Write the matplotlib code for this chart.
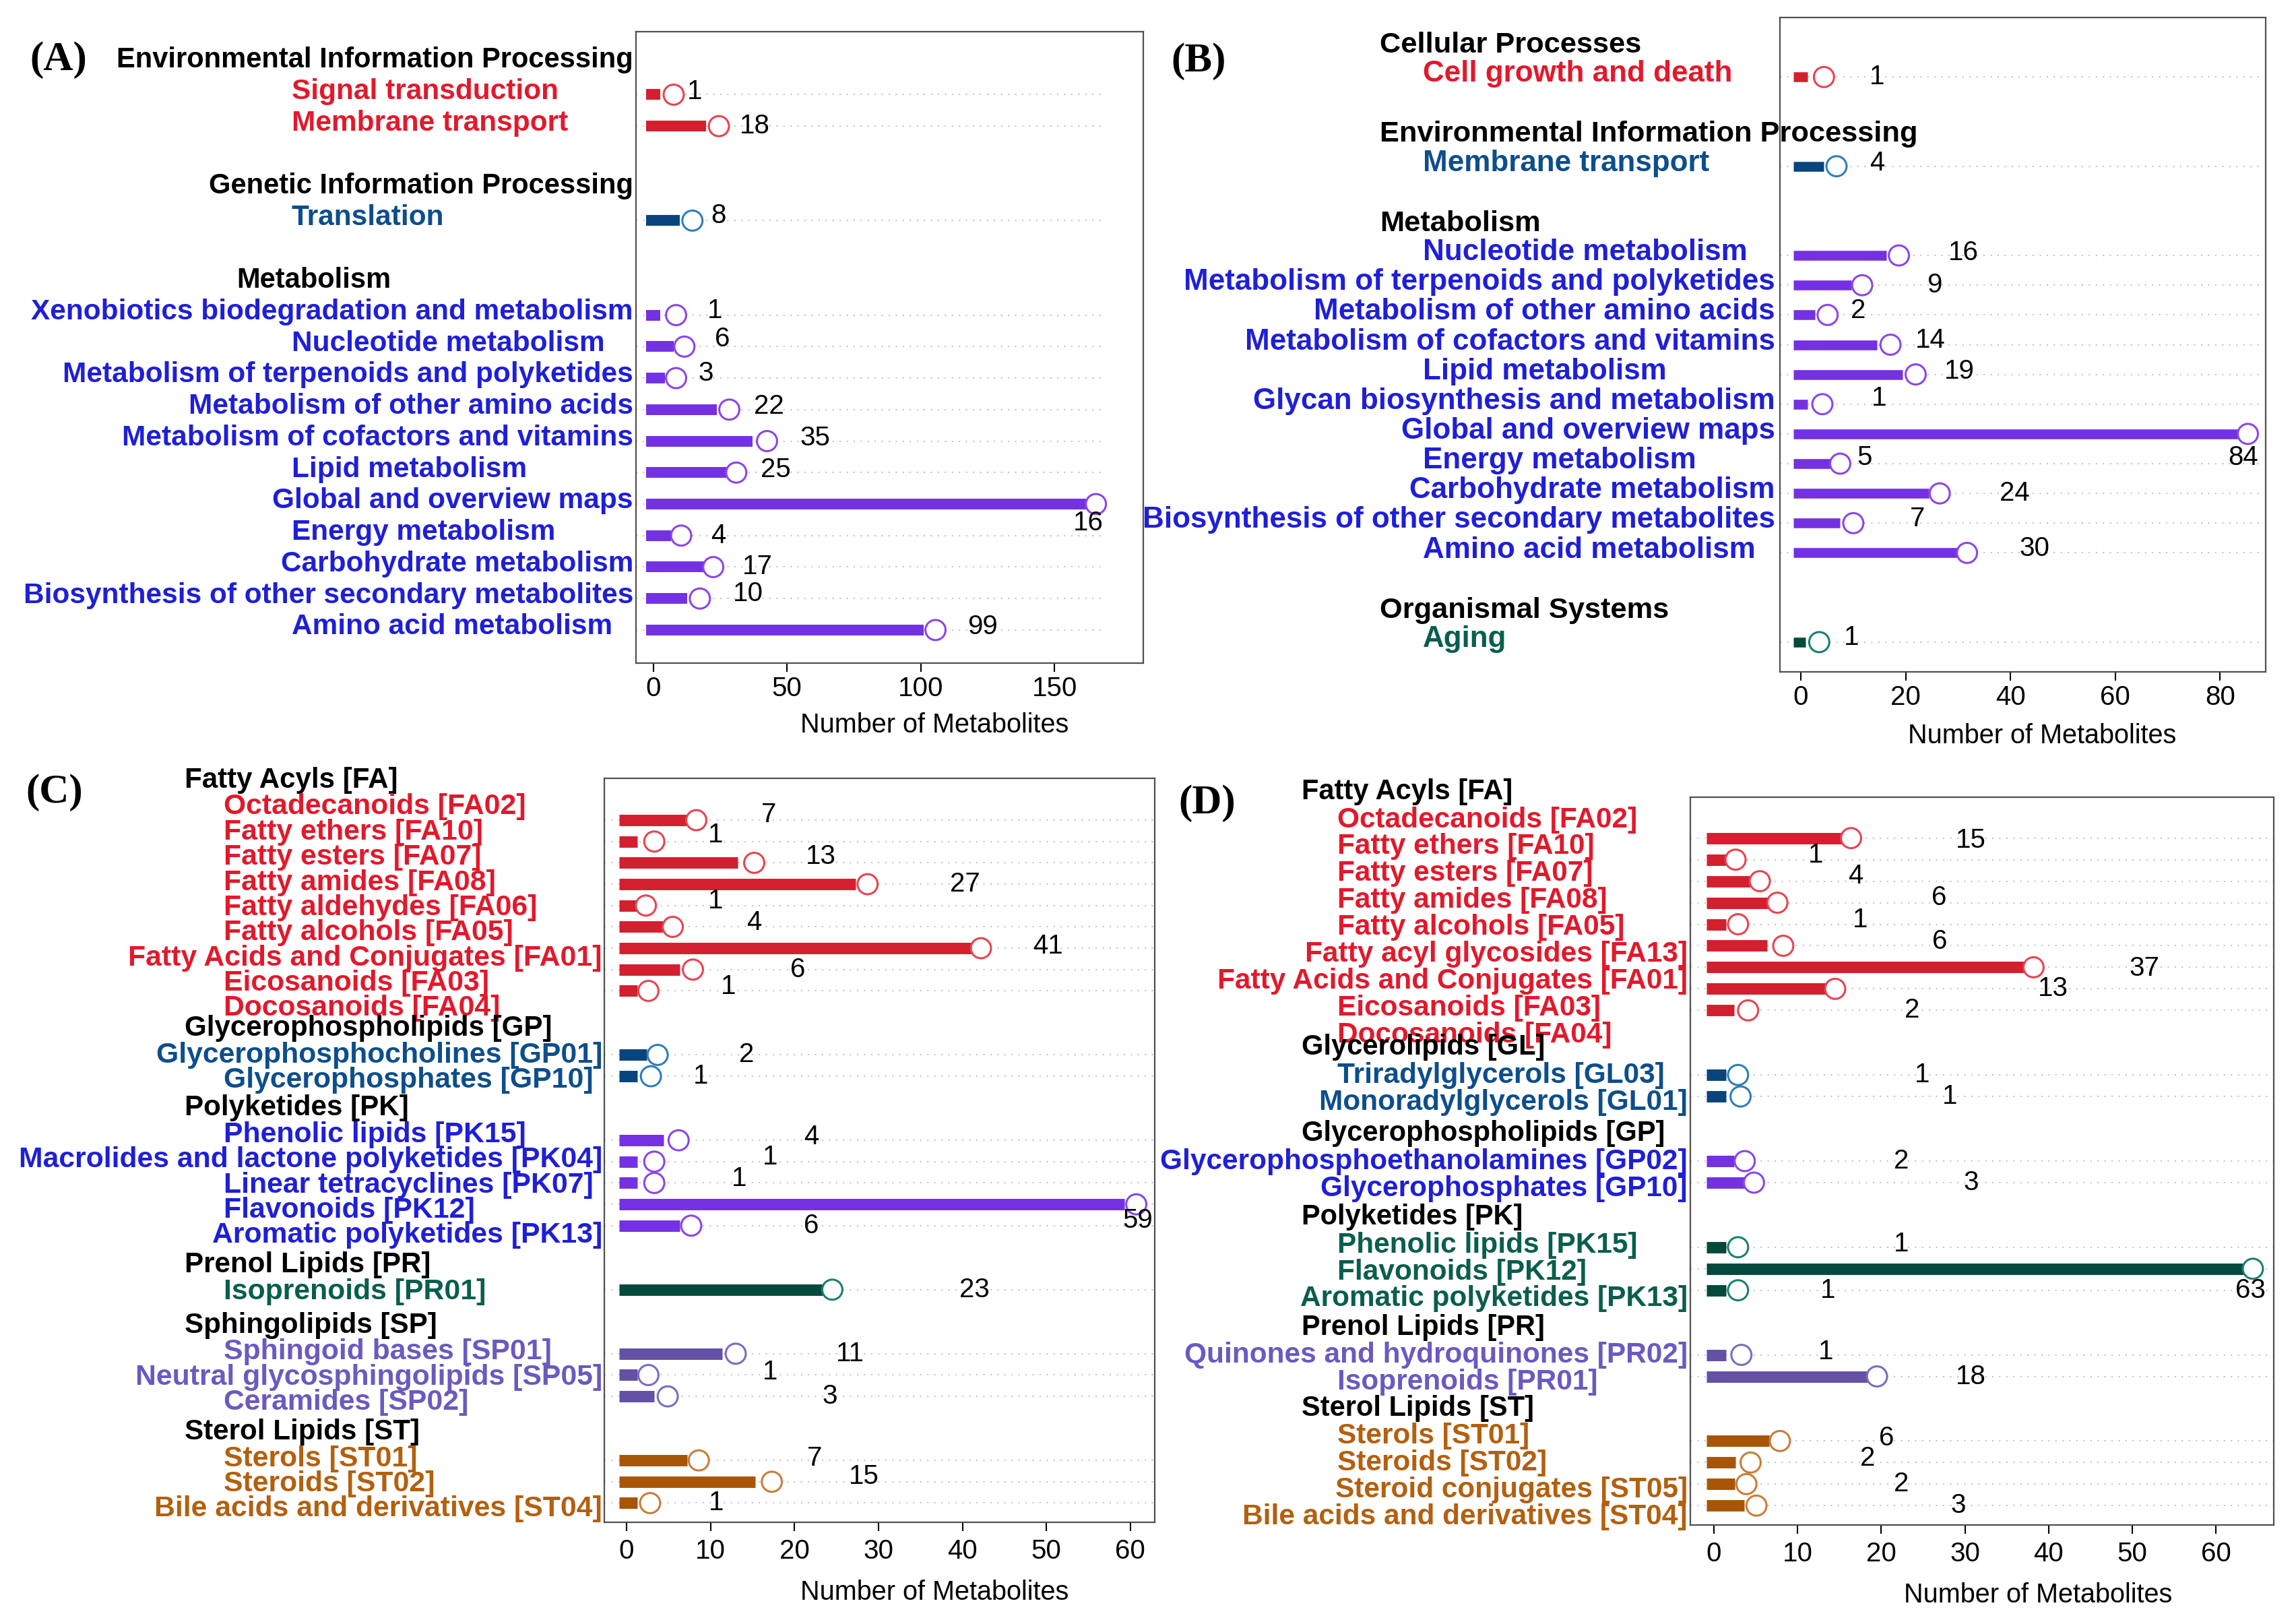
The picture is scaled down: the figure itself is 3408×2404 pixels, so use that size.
import matplotlib
matplotlib.use('Agg')
import matplotlib.pyplot as plt
from matplotlib.transforms import blended_transform_factory

W, H = 3408, 2404
SANS = ['Liberation Sans', 'DejaVu Sans']
SERIF = ['Liberation Serif', 'DejaVu Serif']

# ---------------- data ----------------
# (A)
a_groups = ['Environmental Information Processing', 'Genetic Information Processing', 'Metabolism']
a_sizes = [2, 1, 11]
a_items = ['Signal transduction', 'Membrane transport', 'Translation',
           'Xenobiotics biodegradation and metabolism', 'Nucleotide metabolism',
           'Metabolism of terpenoids and polyketides', 'Metabolism of other amino acids',
           'Metabolism of cofactors and vitamins', 'Lipid metabolism', 'Global and overview maps',
           'Energy metabolism', 'Carbohydrate metabolism',
           'Biosynthesis of other secondary metabolites', 'Amino acid metabolism']
a_bar = [2.5, 19.6, 9.8, 2.5, 7.6, 4.3, 23.7, 37, 28, 161.8, 6.5, 19, 12.6, 101]
a_dot = [7.6, 24.5, 14.6, 8.5, 11.6, 8.5, 28.4, 42.5, 31, 165.5, 10.4, 22.4, 17.4, 105.5]
a_count = ['1', '18', '8', '1', '6', '3', '22', '35', '25', '16', '4', '17', '10', '99']
a_count_x = [15.4, 38.0, 24.4, 22.9, 25.7, 19.6, 43.1, 60.5, 45.8, 162.7, 24.4, 38.8, 35.5, 123.2]
a_count_dy = [-0.1, 0, -0.15, -0.15, -0.25, -0.15, -0.1, -0.1, -0.1, 0.6, 0, 0, -0.15, -0.1]

# (B)
b_groups = ['Cellular Processes', 'Environmental Information Processing', 'Metabolism',
            'Organismal Systems']
b_sizes = [1, 1, 11, 1]
b_items = ['Cell growth and death', 'Membrane transport', 'Nucleotide metabolism',
           'Metabolism of terpenoids and polyketides', 'Metabolism of other amino acids',
           'Metabolism of cofactors and vitamins', 'Lipid metabolism',
           'Glycan biosynthesis and metabolism', 'Global and overview maps', 'Energy metabolism',
           'Carbohydrate metabolism', 'Biosynthesis of other secondary metabolites',
           'Amino acid metabolism', 'Aging']
b_bar = [1.3, 4.4, 16.3, 9.6, 2.7, 14.5, 19.4, 1.3, 84.2, 5.8, 24.4, 7.5, 30.6, 0.9]
b_dot = [4.4, 6.8, 18.7, 11.7, 5.1, 17.1, 21.9, 4.1, 85.3, 7.5, 26.5, 10, 31.7, 3.5]
b_count = ['1', '4', '16', '9', '2', '14', '19', '1', '84', '5', '24', '7', '30', '1']
b_count_x = [14.5, 14.5, 31, 25.5, 10.9, 24.7, 30.3, 14.9, 84.4, 12.1, 40.8, 22.2, 44.6, 9.6]
b_count_dy = [0, -0.1, -0.1, 0, -0.15, -0.15, -0.1, -0.2, 0.8, -0.2, 0, -0.15, -0.15, -0.15]

# (C)
c_groups = ['Fatty Acyls [FA]', 'Glycerophospholipids [GP]', 'Polyketides [PK]',
            'Prenol Lipids [PR]', 'Sphingolipids [SP]', 'Sterol Lipids [ST]']
c_sizes = [9, 2, 5, 1, 3, 3]
c_items = ['Octadecanoids [FA02]', 'Fatty ethers [FA10]', 'Fatty esters [FA07]',
           'Fatty amides [FA08]', 'Fatty aldehydes [FA06]', 'Fatty alcohols [FA05]',
           'Fatty Acids and Conjugates [FA01]', 'Eicosanoids [FA03]', 'Docosanoids [FA04]',
           'Glycerophosphocholines [GP01]', 'Glycerophosphates [GP10]',
           'Phenolic lipids [PK15]', 'Macrolides and lactone polyketides [PK04]',
           'Linear tetracyclines [PK07]', 'Flavonoids [PK12]', 'Aromatic polyketides [PK13]',
           'Isoprenoids [PR01]', 'Sphingoid bases [SP01]', 'Neutral glycosphingolipids [SP05]',
           'Ceramides [SP02]', 'Sterols [ST01]', 'Steroids [ST02]', 'Bile acids and derivatives [ST04]']
c_bar = [7.2, 1.3, 13.2, 27.3, 1.3, 4.4, 41.1, 6.3, 1.3, 2.4, 1.3, 4.4, 1.3, 1.3, 59.3, 6.3,
         23.5, 11.4, 1.3, 3.3, 7.2, 15.3, 1.3]
c_dot = [8.3, 3.3, 15.2, 28.7, 2.3, 5.5, 42.2, 7.9, 2.6, 3.7, 2.9, 6.2, 3.3, 3.3, 60.7, 7.7,
         24.5, 13, 2.6, 4.9, 8.6, 17.3, 2.8]
c_count = ['7', '1', '13', '27', '1', '4', '41', '6', '1', '2', '1', '4', '1', '1', '59', '6',
           '23', '11', '1', '3', '7', '15', '1']
c_count_x = [16.9, 10.6, 23.1, 40.3, 10.6, 15.2, 50.2, 20.4, 12.1, 14.3, 8.8, 22, 17.1, 13.4,
             60.9, 22, 41.4, 26.6, 17.1, 24.2, 22.4, 28.3, 10.7]
c_count_dy = [-0.25, -0.3, -0.3, 0, -0.2, -0.2, -0.1, 0, -0.2, 0, 0, -0.15, -0.2, -0.2, 0.75,
              0, 0, 0, -0.15, 0, -0.1, -0.25, 0]

# (D)
d_groups = ['Fatty Acyls [FA]', 'Glycerolipids [GL]', 'Glycerophospholipids [GP]',
            'Polyketides [PK]', 'Prenol Lipids [PR]', 'Sterol Lipids [ST]']
d_sizes = [9, 2, 2, 3, 2, 4]
d_items = ['Octadecanoids [FA02]', 'Fatty ethers [FA10]', 'Fatty esters [FA07]',
           'Fatty amides [FA08]', 'Fatty alcohols [FA05]', 'Fatty acyl glycosides [FA13]',
           'Fatty Acids and Conjugates [FA01]', 'Eicosanoids [FA03]', 'Docosanoids [FA04]',
           'Triradylglycerols [GL03]', 'Monoradylglycerols [GL01]',
           'Glycerophosphoethanolamines [GP02]', 'Glycerophosphates [GP10]',
           'Phenolic lipids [PK15]', 'Flavonoids [PK12]', 'Aromatic polyketides [PK13]',
           'Quinones and hydroquinones [PR02]', 'Isoprenoids [PR01]', 'Sterols [ST01]',
           'Steroids [ST02]', 'Steroid conjugates [ST05]', 'Bile acids and derivatives [ST04]']
d_bar = [15.4, 1.5, 4.4, 6.6, 1.5, 6.4, 37.2, 13.4, 2.4, 1.5, 1.5, 2.4, 3.7, 1.5, 63.5, 1.5,
         1.5, 18.4, 6.6, 2.6, 2.5, 3.6]
d_dot = [16.4, 2.6, 5.5, 7.6, 2.9, 8.3, 38.2, 14.5, 4.1, 2.9, 3.2, 3.7, 4.8, 2.9, 64.4, 2.9,
         3.3, 19.5, 7.9, 4.4, 3.9, 5.1]
d_count = ['15', '1', '4', '6', '1', '6', '37', '13', '2', '1', '1', '2', '3', '1', '63', '1',
           '1', '18', '6', '2', '2', '3']
d_count_x = [30.7, 12.2, 16.9, 26.9, 17.5, 27, 51.4, 40.5, 23.7, 24.9, 28.2, 22.4, 30.7, 22.4,
             64.1, 13.6, 13.4, 30.7, 20.6, 18.4, 22.4, 29.2]
d_count_dy = [0.1, -0.2, -0.25, -0.25, -0.2, -0.2, 0.05, 0, 0, 0, 0, 0, 0, -0.15, 1.0, 0,
              -0.15, 0, -0.15, -0.2, 0, 0]

# one colour per class, in class order
bar_colors = ['#D41F2F', '#08457E', '#7431E3', '#034A3D', '#6451A6', '#A95507']
ring_colors = ['#E8434F', '#2E7DB8', '#8B45EC', '#1B7F70', '#7B6BC2', '#C77D3A']
text_colors = ['#E2192C', '#0D4E8C', '#1F1FD8', '#0A5E4E', '#6A5AC0', '#B3600F']

# layout in pixels of the 3408x2404 canvas (top-left origin)
layouts = {
    'A': dict(box=(944, 47, 1697, 984), xlim=(-6.5, 183.2), ylim=(18.05, -2.0),
              ticks=[0, 50, 100, 150], step=1.0, shift=-0.1, hoff=1.0,
              lab=(433, 940), head=(351, 940), letter=(44, 89), xlab=0.588,
              bar_lw=11.5, pad=4, labelpad=12, fs=1.0),
    'B': dict(box=(2642, 26, 3363, 997), xlim=(-4.0, 88.7), ylim=(20.0, -2.0),
              ticks=[0, 20, 40, 60, 80], step=1.0, shift=-0.1, hoff=0.97,
              lab=(2112, 2635), head=(2048, 99999), letter=(1738, 91), xlab=0.54,
              bar_lw=10.5, pad=4, labelpad=14, fs=1.04),
    'C': dict(box=(897, 1155, 1714, 2259), xlim=(-2.65, 62.9), ylim=(32.9, -1.96),
              ticks=list(range(0, 61, 10)), step=1.18, shift=0.1, hoff=1.25,
              lab=(332, 894), head=(274, 894), letter=(38, 1176), xlab=0.6,
              bar_lw=12.2, pad=8, labelpad=16, fs=1.01),
    'D': dict(box=(2509, 1183, 3375, 2263), xlim=(-2.8, 66.9), ylim=(31.9, -1.9),
              ticks=list(range(0, 61, 10)), step=1.25, shift=0.15, hoff=1.3,
              lab=(1985, 2505), head=(1932, 2505), letter=(1749, 1192), xlab=0.596,
              bar_lw=12.2, pad=8, labelpad=16, fs=1.0),
}

fig = plt.figure(figsize=(W / 100, H / 100), dpi=100)
renderer = fig.canvas.get_renderer()


def place(ax, trans, text, y, left, right, **kw):
    t = ax.text(left / W, y, text, transform=trans, ha='left', va='center', **kw)
    ext = t.get_window_extent(renderer)
    if ext.x1 > right:
        t.set_x(right / W)
        t.set_ha('right')
    return t


def panel(key, groups, sizes, items, bars, dots, counts, count_x, count_dy):
    lay = layouts[key]
    x0, y0, x1, y1 = lay['box']
    ax = fig.add_axes([x0 / W, 1 - y1 / H, (x1 - x0) / W, (y1 - y0) / H])
    ax.set_xlim(*lay['xlim'])
    ax.set_ylim(*lay['ylim'])

    # row index of each item: classes separated by two empty rows
    rows, grp, starts = [], [], []
    r = 0
    for g, n in enumerate(sizes):
        starts.append(r)
        rows += list(range(r, r + n))
        grp += [g] * n
        r += n + 2

    xr = lay['xlim'][1] - lay['xlim'][0]
    start = -11 * xr / (x1 - x0)
    grid_end = min(max(dots) + 3, lay['xlim'][1])

    ax.hlines(rows, lay['xlim'][0], grid_end, colors='#C4C4C4',
              linestyles=(0, (1, 4)), lw=1.5, zorder=0)
    ax.hlines(rows, start, bars, colors=[bar_colors[g] for g in grp],
              lw=lay['bar_lw'], zorder=2)
    ax.scatter(dots, rows, s=21.5 ** 2, facecolors='white',
               edgecolors=[ring_colors[g] for g in grp], linewidths=2.2, zorder=3)

    for c, cx, dy, yy in zip(counts, count_x, count_dy, rows):
        ax.text(cx, yy + dy, c, ha='center', va='center', fontsize=29,
                family=SANS, color='black', zorder=4)

    # category labels left of the box
    fs = lay['fs']
    trans = blended_transform_factory(fig.transFigure, ax.transData)
    k = 0
    for g, n in enumerate(sizes):
        centre = starts[g] + (n - 1) / 2
        ys = [centre + (j - (n - 1) / 2) * lay['step'] + lay['shift'] for j in range(n)]
        place(ax, trans, groups[g], ys[0] - lay['hoff'], *lay['head'],
              fontsize=30 * fs, fontweight='bold', family=SANS, color='black')
        for yy in ys:
            place(ax, trans, items[k], yy, *lay['lab'],
                  fontsize=30.5 * fs, fontweight='bold', family=SANS, color=text_colors[g])
            k += 1

    ax.set_yticks([])
    ax.set_xticks(lay['ticks'])
    ax.tick_params(axis='x', direction='out', length=9.5, width=1.5, pad=lay['pad'],
                   labelsize=29, colors='black')
    for lab in ax.get_xticklabels():
        lab.set_family(SANS)
    for sp in ax.spines.values():
        sp.set_color('#505050')
        sp.set_linewidth(1.6)
    ax.set_xlabel('Number of Metabolites', fontsize=28.5, family=SANS,
                  labelpad=lay['labelpad'])
    ax.xaxis.label.set_x(lay['xlab'])

    lx, ly = lay['letter']
    fig.text(lx / W, 1 - ly / H, '(%s)' % key, ha='left', va='center', fontsize=44,
             fontweight='bold', family=SERIF)


panel('A', a_groups, a_sizes, a_items, a_bar, a_dot, a_count, a_count_x, a_count_dy)
panel('B', b_groups, b_sizes, b_items, b_bar, b_dot, b_count, b_count_x, b_count_dy)
panel('C', c_groups, c_sizes, c_items, c_bar, c_dot, c_count, c_count_x, c_count_dy)
panel('D', d_groups, d_sizes, d_items, d_bar, d_dot, d_count, d_count_x, d_count_dy)

fig.savefig('out.png', dpi=100)
